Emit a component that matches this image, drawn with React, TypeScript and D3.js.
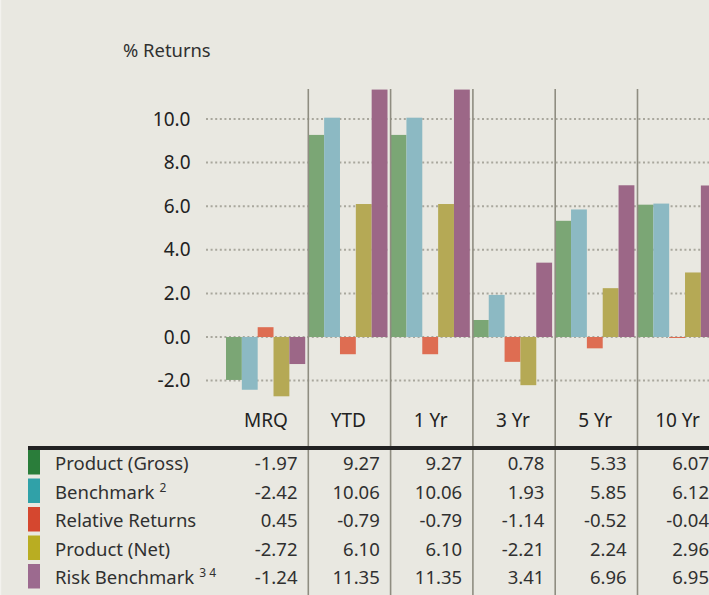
import React from "react";
import * as d3 from "d3";

const categories = ["MRQ", "YTD", "1 Yr", "3 Yr", "5 Yr", "10 Yr"];
const seriesNames = ["Product (Gross)", "Benchmark", "Relative Returns", "Product (Net)", "Risk Benchmark"];
const seriesSup = ["", "2", "", "", "3 4"];
const productGross = [-1.97, 9.27, 9.27, 0.78, 5.33, 6.07];
const benchmark = [-2.42, 10.06, 10.06, 1.93, 5.85, 6.12];
const relativeReturns = [0.45, -0.79, -0.79, -1.14, -0.52, -0.04];
const productNet = [-2.72, 6.1, 6.1, -2.21, 2.24, 2.96];
const riskBenchmark = [-1.24, 11.35, 11.35, 3.41, 6.96, 6.95];
const yTicks = [-2, 0, 2, 4, 6, 8, 10];

const seriesValues = [productGross, benchmark, relativeReturns, productNet, riskBenchmark];
const barColors = ["#7ba675", "#8cb9c3", "#de6d52", "#b5a955", "#9c6787"];
const swatchColors = ["#2a7d3a", "#30a1a8", "#d5472f", "#b9ad22", "#9c6a8f"];

const W = 709;
const H = 595;
const FONT = "'Noto Sans', sans-serif";

const locale = d3.formatLocale({ decimal: ".", thousands: ",", grouping: [3], currency: ["$", ""], minus: "-" });
const fmt1 = locale.format(".1f");
const fmt2 = locale.format(".2f");

export default function App() {
  React.useEffect(() => {
    document.body.style.margin = "0";
    document.body.style.background = "#e9e8e1";
  }, []);

  const y = d3.scaleLinear().domain([0, 10]).range([337, 119]);
  const x = d3.scaleBand<string>().domain(categories).range([226, 226 + 6 * 82.3]).padding(0);
  const xInner = d3.scaleBand<string>().domain(seriesNames).range([0, 79.2]).padding(0);
  const bw = x.bandwidth();
  const rowY = (i: number) => 450 + i * 28.5;
  const textColor = "#303030";

  return (
    <svg width={W} height={H} style={{ display: "block", position: "absolute", left: 0, top: 0 }} fontFamily={FONT}>
      <rect x={0} y={0} width={W} height={H} fill="#e9e8e1" />
      <rect x={0} y={0} width={1.2} height={H} fill="#f3f2ee" />

      <text x={123} y={56.5} fontSize={18.4} fill={textColor}>% Returns</text>

      {/* gridlines */}
      {yTicks.map((t) => (
        <line key={"g" + t} x1={206} x2={W} y1={y(t)} y2={y(t)} stroke="#a9a79d" strokeWidth={2} strokeDasharray="2 2.6" />
      ))}
      {yTicks.map((t) => (
        <text key={"t" + t} x={190.5} y={y(t) + 6.5} fontSize={19} textAnchor="end" fill="#222">
          {fmt1(t)}
        </text>
      ))}

      {/* bars */}
      {categories.map((c, ci) => (
        <g key={"c" + c} transform={`translate(${x(c)},0)`}>
          {seriesNames.map((s, si) => {
            const v = seriesValues[si][ci];
            const y0 = y(0);
            const yv = y(v);
            return (
              <rect
                key={s}
                x={xInner(s)}
                width={xInner.bandwidth()}
                y={Math.min(y0, yv)}
                height={Math.max(1, Math.abs(yv - y0))}
                fill={barColors[si]}
              />
            );
          })}
        </g>
      ))}

      {/* separators */}
      {categories.slice(1).map((c) => (
        <line key={"s" + c} x1={x(c)!} x2={x(c)!} y1={89} y2={H} stroke="#8f8d81" strokeWidth={1.6} />
      ))}

      {/* category labels */}
      {categories.map((c) => (
        <text key={"l" + c} x={x(c)! + 40} y={427} fontSize={19} textAnchor="middle" fill="#222">
          {c}
        </text>
      ))}

      {/* table */}
      <rect x={28} y={446} width={W - 28} height={4} fill="#222" />
      {seriesNames.map((s, si) => (
        <g key={"r" + s}>
          <rect x={28} y={rowY(si)} width={12} height={24.5} fill={swatchColors[si]} />
          <text x={55} y={rowY(si) + 20} fontSize={18.5} fill={textColor}>
            {s}
            {seriesSup[si] ? (
              <tspan dx={5} dy={-7} fontSize={12}>{seriesSup[si]}</tspan>
            ) : null}
          </text>
          {categories.map((c, ci) => (
            <text key={c} x={x(c)! + bw - 10.8} y={rowY(si) + 20} fontSize={18.5} textAnchor="end" fill={textColor}>
              {fmt2(seriesValues[si][ci])}
            </text>
          ))}
        </g>
      ))}
    </svg>
  );
}
